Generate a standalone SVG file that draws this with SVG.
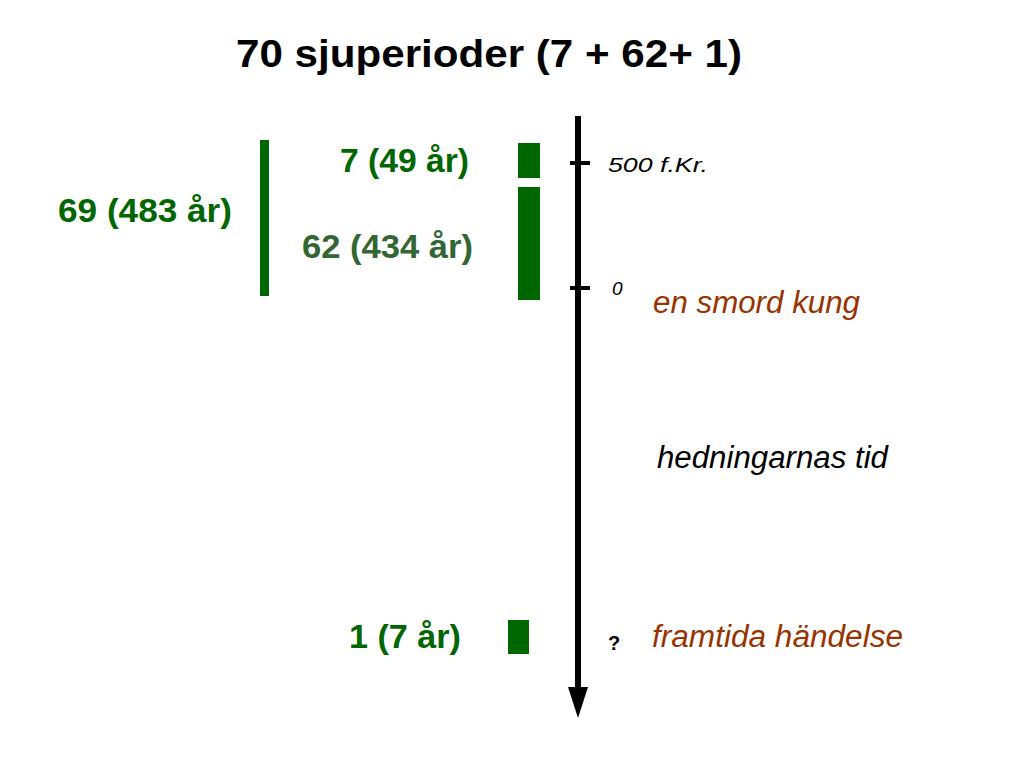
<svg xmlns="http://www.w3.org/2000/svg" width="1024" height="770" viewBox="0 0 1024 770">
<style>
.t{font-family:"Liberation Sans",Arial,sans-serif}
.g{font-weight:bold;font-size:34px;fill:#006600}
.bar{fill:#006600}
.it{font-style:italic}
.br{fill:#993300;font-size:31px}
</style>
<rect width="1024" height="770" fill="#fff"/>
<g id="title"><text class="t" x="236" y="67" textLength="506" lengthAdjust="spacingAndGlyphs" font-size="39" font-weight="bold">70 sjuperioder (7 + 62+ 1)</text></g>
<g id="axis">
<line x1="578" y1="116" x2="578" y2="692" stroke="#000" stroke-width="6"/>
<polygon points="568,687 588,687 578,718" fill="#000"/>
<line x1="570" y1="163" x2="590" y2="163" stroke="#000" stroke-width="4"/>
<line x1="570" y1="288" x2="590" y2="288" stroke="#000" stroke-width="4"/>
</g>
<g id="n69"><rect class="bar" x="260" y="140" width="9" height="156"/><text class="t g" x="58" y="222" textLength="174" lengthAdjust="spacingAndGlyphs">69 (483 år)</text></g>
<g id="n7"><rect class="bar" x="518" y="143" width="22" height="35"/><text class="t g" x="340" y="172" textLength="129" lengthAdjust="spacingAndGlyphs">7 (49 år)</text></g>
<g id="n62"><rect class="bar" x="518" y="187" width="22" height="113"/><text class="t g" x="302" y="258" textLength="171" lengthAdjust="spacingAndGlyphs" style="fill:#336633">62 (434 år)</text></g>
<g id="n1"><rect class="bar" x="508" y="620" width="21" height="34"/><text class="t g" x="349" y="648" textLength="112" lengthAdjust="spacingAndGlyphs">1 (7 år)</text></g>
<g id="l500"><text class="t it" x="608" y="172" font-size="21" textLength="100" lengthAdjust="spacingAndGlyphs">500 f.Kr.</text></g>
<g id="l0"><text class="t it" x="612" y="295" font-size="19">0</text></g>
<g id="kung"><text class="t it br" x="653" y="313" textLength="207" lengthAdjust="spacingAndGlyphs">en smord kung</text></g>
<g id="hed"><text class="t it" x="657" y="468" font-size="31" textLength="231" lengthAdjust="spacingAndGlyphs">hedningarnas tid</text></g>
<g id="q"><text class="t" x="608" y="650" font-size="20" font-weight="bold">?</text></g>
<g id="fram"><text class="t it br" x="652" y="647" textLength="251" lengthAdjust="spacingAndGlyphs">framtida händelse</text></g>
</svg>
